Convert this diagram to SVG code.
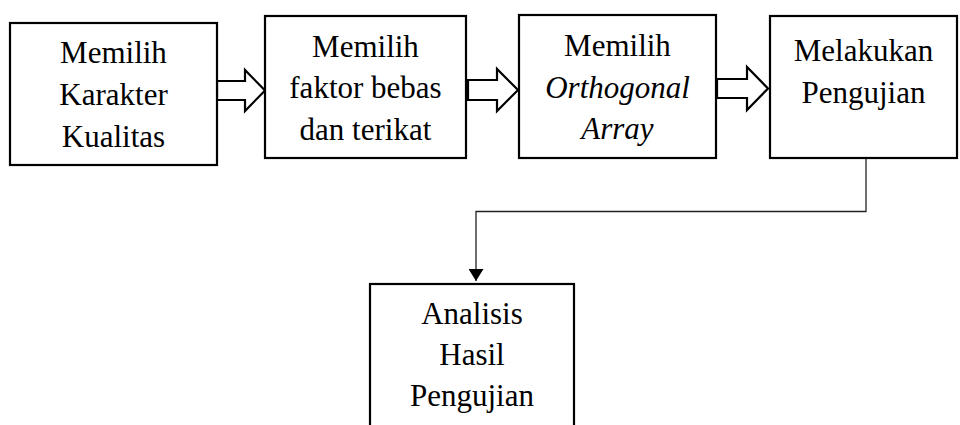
<svg xmlns="http://www.w3.org/2000/svg" width="960" height="425" viewBox="0 0 960 425">
<defs>
<marker id="ah" markerWidth="12" markerHeight="15" refX="12" refY="7.5" orient="auto" markerUnits="userSpaceOnUse">
<path d="M0,0 L12,7.5 L0,15 Z" fill="#000"/>
</marker>
</defs>
<rect width="960" height="425" fill="#fff"/>
<g id="connectors" fill="#fff" stroke="#000" stroke-width="2.2">
<path d="M217,81 H245 V70 L265,90.5 L245,111 V100 H217 Z"/>
<path d="M468,80 H497 V69 L518,90 L497,111 V100 H468 Z"/>
<path d="M717,79 H747 V67 L768,88.5 L747,110 V98 H717 Z"/>
<path d="M866,158 V211.5 H476 V281" fill="none" stroke="#222" stroke-width="1.3" marker-end="url(#ah)"/>
</g>
<g id="n1">
<rect x="10" y="23" width="207" height="142" fill="#fff" stroke="#000" stroke-width="2.2"/>
<text x="60.1" y="63" font-family="Liberation Serif" font-size="31">Memilih</text>
<text x="59.3" y="105" font-family="Liberation Serif" font-size="31">Karakter</text>
<text x="61.8" y="147" font-family="Liberation Serif" font-size="31">Kualitas</text>
</g>
<g id="n2">
<rect x="265" y="16" width="201" height="142" fill="#fff" stroke="#000" stroke-width="2.2"/>
<text x="312.1" y="57" font-family="Liberation Serif" font-size="31">Memilih</text>
<text x="289.3" y="98" font-family="Liberation Serif" font-size="31">faktor bebas</text>
<text x="299.6" y="140" font-family="Liberation Serif" font-size="31">dan terikat</text>
</g>
<g id="n3">
<rect x="519" y="15" width="197" height="143" fill="#fff" stroke="#000" stroke-width="2.2"/>
<text x="564.1" y="56" font-family="Liberation Serif" font-size="31">Memilih</text>
<text x="545.2" y="98" font-family="Liberation Serif" font-size="31" font-style="italic">Orthogonal</text>
<text x="581.3" y="139" font-family="Liberation Serif" font-size="31" font-style="italic">Array</text>
</g>
<g id="n4">
<rect x="770" y="16" width="187" height="142" fill="#fff" stroke="#000" stroke-width="2.2"/>
<text x="793.8" y="61" font-family="Liberation Serif" font-size="31">Melakukan</text>
<text x="801.5" y="103" font-family="Liberation Serif" font-size="31">Pengujian</text>
</g>
<g id="n5">
<rect x="370" y="284" width="204" height="160" fill="#fff" stroke="#000" stroke-width="2.2"/>
<text x="421.2" y="324" font-family="Liberation Serif" font-size="31">Analisis</text>
<text x="439.3" y="365" font-family="Liberation Serif" font-size="31">Hasil</text>
<text x="410" y="406" font-family="Liberation Serif" font-size="31">Pengujian</text>
</g>
</svg>
